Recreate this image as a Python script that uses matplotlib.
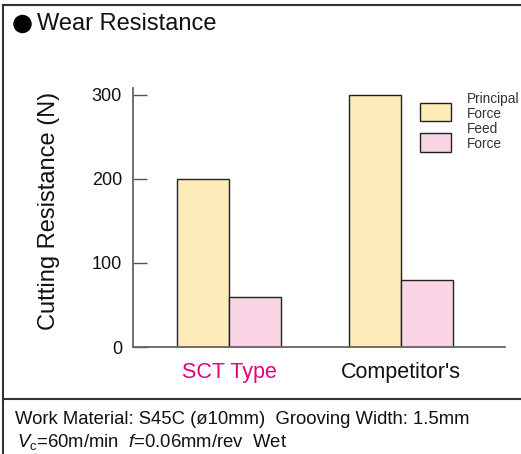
import matplotlib
matplotlib.use("Agg")
import matplotlib.pyplot as plt
from matplotlib.lines import Line2D
from matplotlib.patches import Ellipse, Rectangle
from matplotlib.legend_handler import HandlerPatch
import numpy as np

plt.rcParams['font.family'] = ['Liberation Sans', 'DejaVu Sans']
plt.rcParams['mathtext.fontset'] = 'custom'
plt.rcParams['mathtext.rm'] = 'Liberation Sans'
plt.rcParams['mathtext.it'] = 'Liberation Sans:italic'

# ---- data ----
categories = ["SCT Type", "Competitor's"]
principal_force = [200, 300]
feed_force = [60, 80]
series_labels = ["Principal\nForce", "Feed\nForce"]
yticks = [0, 100, 200, 300]
title = "Wear Resistance"
ylabel = "Cutting Resistance (N)"
footer1 = "Work Material: S45C (ø10mm)  Grooving Width: 1.5mm"
footer2 = r"$\mathit{V}$$_\mathregular{c}$=60m/min  $\mathit{f}$=0.06mm/rev  Wet"

W, H = 521, 454
fig = plt.figure(figsize=(W/100, H/100), dpi=100)

def fx(px):
    return px / W
def fy(py):
    return 1 - py / H

ax = fig.add_axes([fx(133), fy(347), fx(505) - fx(133), fy(88) - fy(347)])

x = np.arange(len(categories))
bw = 0.302
c_pr = "#FDEBB9"
c_fd = "#F9D4E5"
b1 = ax.bar(x - bw/2, principal_force, bw, color=c_pr, edgecolor="#222222", linewidth=1.0,
            label=series_labels[0], zorder=2)
b2 = ax.bar(x + bw/2, feed_force, bw, color=c_fd, edgecolor="#222222", linewidth=1.0,
            label=series_labels[1], zorder=2)

ax.set_xlim(-0.558, 1.605)
ax.set_ylim(0, 308)
ax.set_yticks(yticks)
ax.tick_params(axis='y', direction='in', length=10, width=1, color="#555555",
               labelsize=13, pad=8, labelcolor="#111111")
ax.set_xticks(x)
ax.set_xticklabels(categories, fontsize=15.5)
ax.tick_params(axis='x', length=0, pad=11)
ax.get_xticklabels()[0].set_color("#E5007F")
ax.get_xticklabels()[1].set_color("#111111")
for s in ["top", "right"]:
    ax.spines[s].set_visible(False)
for s in ["left", "bottom"]:
    ax.spines[s].set_color("#666666")
    ax.spines[s].set_linewidth(1.3)

fig.text(fx(49), fy(211), ylabel, rotation=90, fontsize=17, ha='center', va='center',
         color="#111111")


def legend_box(legend, orig_handle, xdescent, ydescent, width, height, fontsize):
    return Rectangle((-xdescent, -6.9), width, 13.0)


def first_child(handle, orig):
    handle.update_from(orig.patches[0])


hp = HandlerPatch(patch_func=legend_box, update_func=first_child)
leg = ax.legend(handles=[b1, b2], labels=series_labels,
                loc='upper left', bbox_to_anchor=(fx(419.5), fy(92)), bbox_transform=fig.transFigure,
                frameon=False, fontsize=9.8, handlelength=2.35, handleheight=1.66,
                handletextpad=1.15, labelspacing=0.12, borderpad=0, borderaxespad=0,
                handler_map={b1: hp, b2: hp})
for t in leg.get_texts():
    t.set_color("#333333")
    t.set_linespacing(1.05)

# title with bullet
fig.add_artist(Ellipse((fx(22.5), fy(24)), 17/W, 17/H, transform=fig.transFigure,
                       color="black"))
fig.text(fx(37), fy(24), title, fontsize=17, ha='left', va='center', color="#111111")

# footer
fig.text(fx(15), fy(420), footer1, fontsize=13.3, ha='left', va='center', color="#111111")
fig.text(fx(17), fy(442), footer2, fontsize=13.3, ha='left', va='center', color="#111111")

# frame lines
lc = "#333333"
fig.add_artist(Line2D([fx(2.5), fx(2.5)], [fy(5), fy(454)], transform=fig.transFigure, color=lc, lw=1.5))
fig.add_artist(Line2D([fx(2.5), fx(521)], [fy(5), fy(5)], transform=fig.transFigure, color=lc, lw=1.5))
fig.add_artist(Line2D([fx(2.5), fx(521)], [fy(399), fy(399)], transform=fig.transFigure, color=lc, lw=1.5))

fig.savefig("out.png", dpi=100)
